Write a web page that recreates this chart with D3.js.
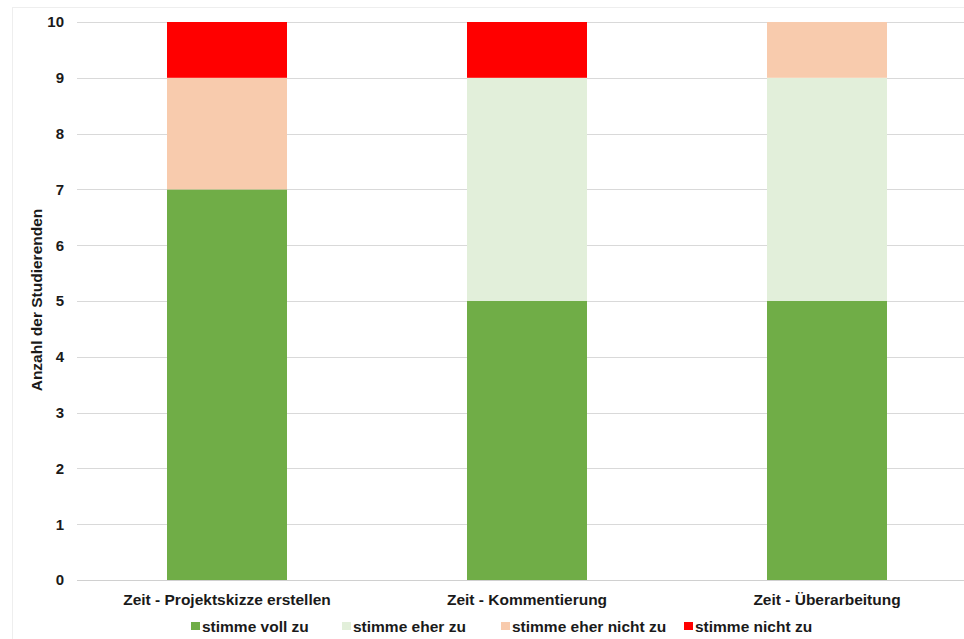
<!DOCTYPE html>
<html><head><meta charset="utf-8">
<script src="https://cdn.jsdelivr.net/npm/d3@7"></script>
<style>body{margin:0;background:#fff}svg{display:block;font-family:"Liberation Sans",Arial,sans-serif}</style>
</head><body><svg id="c" width="964" height="639"></svg>
<script>
const categories = ["Zeit - Projektskizze erstellen", "Zeit - Kommentierung", "Zeit - Überarbeitung"];
const seriesNames = ["stimme voll zu", "stimme eher zu", "stimme eher nicht zu", "stimme nicht zu"];
const vollZu = [7, 5, 5];
const eherZu = [0, 4, 4];
const eherNichtZu = [2, 0, 1];
const nichtZu = [1, 1, 0];
const colors = ["#70AD47", "#E2EFDA", "#F8CBAD", "#FF0000"];
const yTicks = [0,1,2,3,4,5,6,7,8,9,10];
const yTitle = "Anzahl der Studierenden";

const svg = d3.select("#c");
svg.append("rect").attr("x",12.5).attr("y",7.5).attr("width",960).attr("height",640)
  .attr("fill","none").attr("stroke","#eeeeee");

const x = d3.scaleBand().domain(categories).range([77, 977]).paddingInner(0.6).paddingOuter(0.3);
const y = d3.scaleLinear().domain([0,10]).range([580, 22]);

const rows = categories.map((c,i)=>({cat:c, [seriesNames[0]]:vollZu[i], [seriesNames[1]]:eherZu[i], [seriesNames[2]]:eherNichtZu[i], [seriesNames[3]]:nichtZu[i]}));
const stacked = d3.stack().keys(seriesNames)(rows);

// gridlines
svg.append("g").selectAll("line").data(yTicks.filter(t=>t>0)).join("line")
  .attr("x1",77).attr("x2",977).attr("y1",d=>Math.round(y(d))+0.5).attr("y2",d=>Math.round(y(d))+0.5)
  .attr("stroke","#d9d9d9").attr("stroke-width",1);

// bars
svg.append("g").selectAll("g").data(stacked).join("g").attr("fill",(d,i)=>colors[i])
  .selectAll("rect").data(d=>d.map(v=>({v,cat:v.data.cat}))).join("rect")
  .attr("x",d=>x(d.cat)).attr("width",x.bandwidth())
  .attr("y",d=>y(d.v[1])).attr("height",d=>y(d.v[0])-y(d.v[1]));

// baseline
svg.append("line").attr("x1",77).attr("x2",977).attr("y1",580.5).attr("y2",580.5).attr("stroke","#d0d0d0");

const FONT = "'Liberation Sans',Arial,sans-serif";
// y axis labels
const yAxis = d3.axisLeft(y).tickValues(yTicks).tickSize(0).tickPadding(13);
const ya = svg.append("g").attr("transform","translate(77,0)").call(yAxis);
ya.select(".domain").remove();
ya.selectAll("text").attr("font-size",15).attr("font-weight","bold").attr("fill","#1a1a1a")
  .attr("font-family",FONT);

// x axis labels
const xAxis = d3.axisBottom(x).tickSize(0).tickPadding(14);
const xa = svg.append("g").attr("transform","translate(0,580)").call(xAxis);
xa.select(".domain").remove();
xa.selectAll("text").attr("font-size",15.5).attr("font-weight","bold").attr("fill","#1a1a1a")
  .attr("font-family",FONT);

// y title
svg.append("text").attr("transform","translate(42,300) rotate(-90)").attr("text-anchor","middle")
  .attr("font-size",15.5).attr("font-weight","bold").attr("fill","#1a1a1a").text(yTitle);

// legend
const legendX = [202, 353, 512, 695];
const lg = svg.append("g").selectAll("g").data(seriesNames).join("g")
  .attr("transform",(d,i)=>`translate(${legendX[i]},632)`);
lg.append("rect").attr("x",-11).attr("y",-10).attr("width",9).attr("height",8).attr("fill",(d,i)=>colors[i]);
lg.append("text").attr("x",0).attr("y",0).attr("font-size",15.5).attr("font-weight","bold").attr("fill","#1a1a1a").text(d=>d);
</script></body></html>
